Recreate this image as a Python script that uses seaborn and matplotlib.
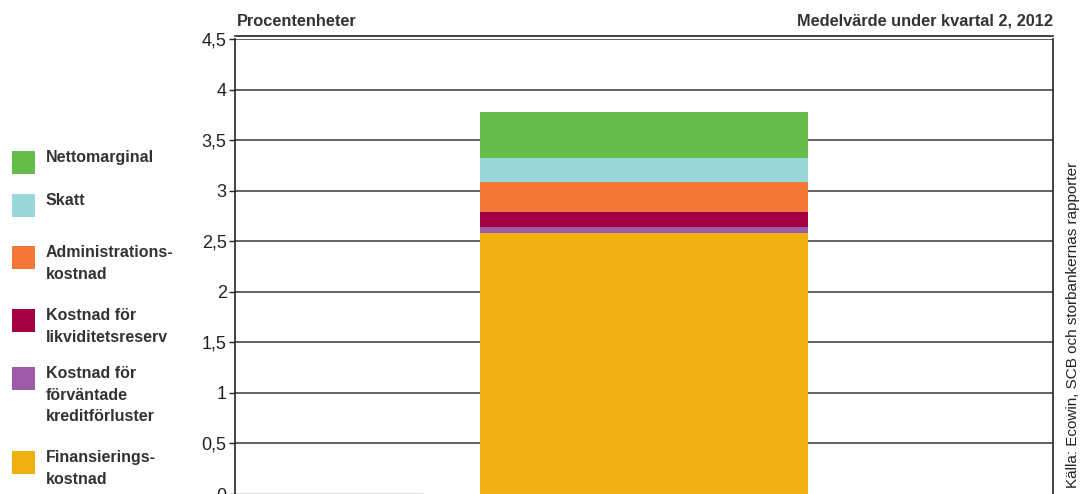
import numpy as np
import pandas as pd
import matplotlib
matplotlib.use("Agg")
import matplotlib.pyplot as plt
import seaborn as sns
from matplotlib.patches import Rectangle

# components, bottom to top
components = ["Finansierings-\nkostnad", "Kostnad för\nförväntade\nkreditförluster",
              "Kostnad för\nlikviditetsreserv", "Administrations-\nkostnad",
              "Skatt", "Nettomarginal"]
values = [2.58, 0.06, 0.15, 0.30, 0.23, 0.46]
colors = ["#efb112", "#9b5ba6", "#a20042", "#f37736", "#9ad7db", "#66bc48"]
category = ["Q2 2012"]
yticks = [0, 0.5, 1, 1.5, 2, 2.5, 3, 3.5, 4, 4.5]
ytick_labels = ["0", "0,5", "1", "1,5", "2", "2,5", "3", "3,5", "4", "4,5"]

sns.set_style("white")
plt.rcParams['font.family'] = ['Liberation Sans', 'DejaVu Sans']

fig = plt.figure(figsize=(10.88, 4.94), dpi=100)
ax = fig.add_axes([235/1088, 0.0, (1053-235)/1088, (494-39)/494])

cum = np.cumsum(values)
# draw from the top layer down so lower segments cover
for i in range(len(values) - 1, -1, -1):
    df = pd.DataFrame({"cat": category, "val": [cum[i]]})
    sns.barplot(data=df, x="cat", y="val", color=colors[i], saturation=1,
                width=0.8, ax=ax, edgecolor="none")

ax.set_xlim(-1, 1)
ax.set_ylim(0, 4.5)
ax.set_yticks(yticks)
ax.set_yticklabels(ytick_labels, fontsize=13, color="#222222")
ax.set_xticks([])
ax.set_xlabel("")
ax.set_ylabel("")
for y in yticks[1:]:
    ax.axhline(y, color="#555555", lw=1.3, zorder=0)
ax.axhline(0, xmin=0, xmax=0.23, color="#dddddd", lw=1.5, zorder=0)
ax.tick_params(axis="y", direction="out", length=4, width=1, color="#222222", pad=2, left=True)
for s in ["left", "right", "top"]:
    ax.spines[s].set_color("#222222")
    ax.spines[s].set_linewidth(1.2)
ax.spines["bottom"].set_visible(False)
ax.spines["top"].set_position(("outward", 2))

fig.text(237/1088, 1 - 22/494, "Procentenheter", fontsize=11.8, fontweight="bold",
         color="#333333", va="center", ha="left")
fig.text(1053/1088, 1 - 21/494, "Medelvärde under kvartal 2, 2012", fontsize=11.8,
         fontweight="bold", color="#333333", va="center", ha="right")
fig.text(1073/1088, 1 - 325/494, "Källa: Ecowin, SCB och storbankernas rapporter",
         fontsize=11, rotation=90, color="#222222", va="center", ha="center")

# legend, drawn manually to match the reference spacing
square_tops = [451, 367, 309, 246, 194, 151]
for name, col, top in zip(components, colors, square_tops):
    fig.add_artist(Rectangle((12/1088, 1 - (top+23)/494), 23/1088, 23/494,
                             transform=fig.transFigure, color=col, lw=0))
    fig.text(46/1088, 1 - (top-1)/494, name, fontsize=11.5, fontweight="bold",
             color="#333333", va="top", ha="left", linespacing=1.55)

fig.savefig("out.png", dpi=100)
